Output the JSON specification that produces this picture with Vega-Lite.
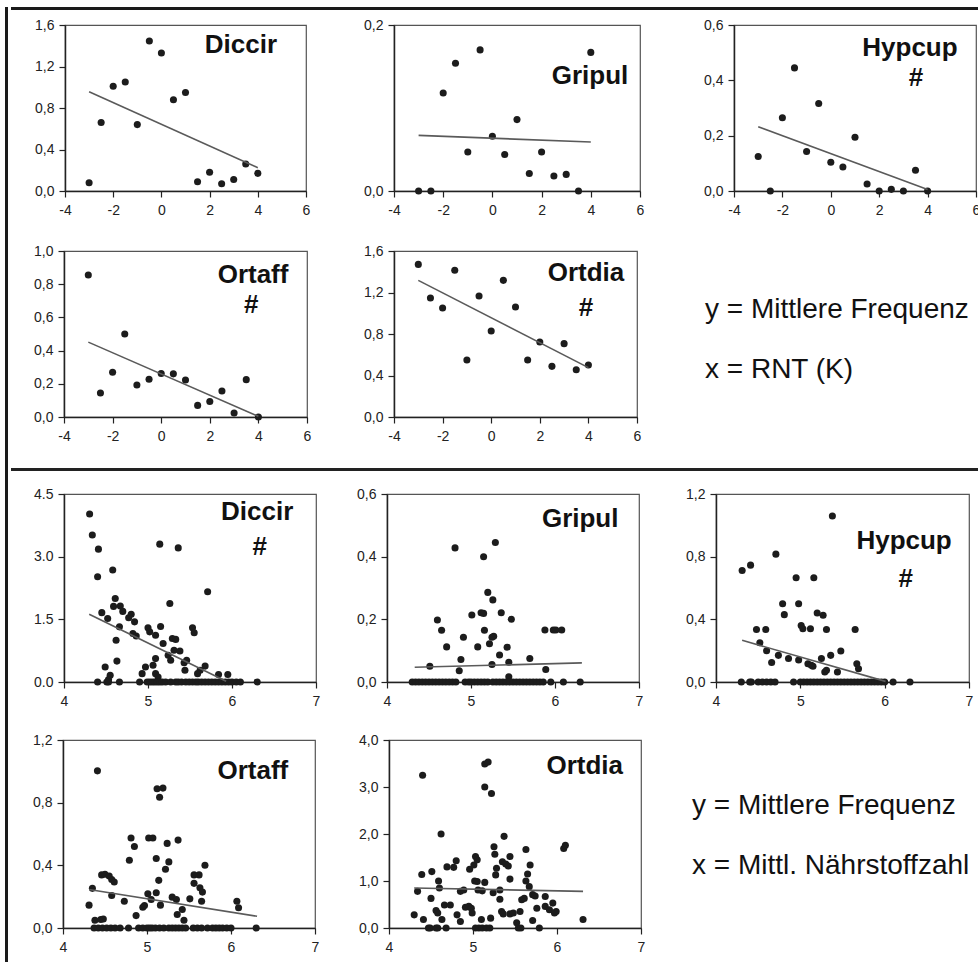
{
"$schema": "https://vega.github.io/schema/vega-lite/v6.json",
"padding": {"left": 5, "top": 5, "right": 0, "bottom": 0},
"background": "white",
"datasets": {
"Diccir_RNT": [{"x":-3,"y":0.08},{"x":-2.5,"y":0.66},{"x":-2,"y":1.01},{"x":-1.5,"y":1.05},{"x":-1,"y":0.64},{"x":-0.5,"y":1.445},{"x":0,"y":1.33},{"x":0.5,"y":0.88},{"x":1,"y":0.95},{"x":1.5,"y":0.09},{"x":2,"y":0.18},{"x":2.5,"y":0.07},{"x":3,"y":0.11},{"x":3.5,"y":0.26},{"x":4,"y":0.17}],
"Gripul_RNT": [{"x":-3,"y":0},{"x":-2.5,"y":0},{"x":-2,"y":0.118},{"x":-1.5,"y":0.154},{"x":-1,"y":0.047},{"x":-0.5,"y":0.17},{"x":0,"y":0.066},{"x":0.5,"y":0.044},{"x":1,"y":0.086},{"x":1.5,"y":0.021},{"x":2,"y":0.047},{"x":2.5,"y":0.018},{"x":3,"y":0.02},{"x":3.5,"y":0},{"x":4,"y":0.167}],
"Hypcup_RNT": [{"x":-3,"y":0.125},{"x":-2.5,"y":0},{"x":-2,"y":0.265},{"x":-1.5,"y":0.445},{"x":-1,"y":0.143},{"x":-0.5,"y":0.316},{"x":0,"y":0.104},{"x":0.5,"y":0.087},{"x":1,"y":0.194},{"x":1.5,"y":0.025},{"x":2,"y":0},{"x":2.5,"y":0.006},{"x":3,"y":0},{"x":3.5,"y":0.075},{"x":4,"y":0}],
"Ortaff_RNT": [{"x":-3,"y":0.855},{"x":-2.5,"y":0.145},{"x":-2,"y":0.27},{"x":-1.5,"y":0.5},{"x":-1,"y":0.193},{"x":-0.5,"y":0.227},{"x":0,"y":0.262},{"x":0.5,"y":0.26},{"x":1,"y":0.223},{"x":1.5,"y":0.07},{"x":2,"y":0.093},{"x":2.5,"y":0.157},{"x":3,"y":0.024},{"x":3.5,"y":0.225},{"x":4,"y":0}],
"Ortdia_RNT": [{"x":-3,"y":1.471},{"x":-2.5,"y":1.147},{"x":-2,"y":1.05},{"x":-1.5,"y":1.414},{"x":-1,"y":0.549},{"x":-0.5,"y":1.166},{"x":0,"y":0.829},{"x":0.5,"y":1.317},{"x":1,"y":1.06},{"x":1.5,"y":0.549},{"x":2,"y":0.723},{"x":2.5,"y":0.488},{"x":3,"y":0.707},{"x":3.5,"y":0.456},{"x":4,"y":0.501}],
"fit_Diccir_RNT": [{"x":-3,"y":0.956},{"x":4,"y":0.225}],
"fit_Gripul_RNT": [{"x":-3,"y":0.067},{"x":4,"y":0.059}],
"fit_Hypcup_RNT": [{"x":-3,"y":0.232},{"x":4,"y":0.005}],
"fit_Ortaff_RNT": [{"x":-3,"y":0.451},{"x":4,"y":0.004}],
"fit_Ortdia_RNT": [{"x":-3,"y":1.317},{"x":4,"y":0.476}],
"Diccir_N": [{"x":4.305,"y":4.02},{"x":4.337,"y":3.52},{"x":4.41,"y":3.18},{"x":4.4,"y":2.52},{"x":4.58,"y":2.68},{"x":4.61,"y":2.0},{"x":4.59,"y":1.81},{"x":4.67,"y":1.82},{"x":4.7,"y":1.69},{"x":4.45,"y":1.66},{"x":4.52,"y":1.52},{"x":4.77,"y":1.54},{"x":4.8,"y":1.62},{"x":4.84,"y":1.44},{"x":4.66,"y":1.32},{"x":4.62,"y":1.0},{"x":4.63,"y":0.5},{"x":4.49,"y":0.36},{"x":4.55,"y":0.16},{"x":4.53,"y":0.06},{"x":4.86,"y":1.1},{"x":4.82,"y":1.16},{"x":5.0,"y":1.3},{"x":5.02,"y":1.2},{"x":5.09,"y":1.12},{"x":5.15,"y":1.33},{"x":5.14,"y":3.3},{"x":5.36,"y":3.21},{"x":5.26,"y":1.88},{"x":5.18,"y":0.92},{"x":5.24,"y":0.64},{"x":5.29,"y":1.04},{"x":5.33,"y":1.02},{"x":5.31,"y":0.76},{"x":5.38,"y":0.74},{"x":5.27,"y":0.52},{"x":5.43,"y":0.46},{"x":5.46,"y":0.52},{"x":5.44,"y":0.28},{"x":5.09,"y":0.56},{"x":5.06,"y":0.4},{"x":4.97,"y":0.36},{"x":4.93,"y":0.2},{"x":5.09,"y":0.2},{"x":5.12,"y":0.12},{"x":5.53,"y":1.3},{"x":5.55,"y":1.18},{"x":5.71,"y":2.16},{"x":5.68,"y":0.38},{"x":5.62,"y":0.28},{"x":5.59,"y":0.2},{"x":5.84,"y":0.18},{"x":5.95,"y":0.18},
{"x":4.4,"y":0},{"x":4.51,"y":0},{"x":4.53,"y":0},{"x":4.66,"y":0},{"x":4.9,"y":0},{"x":4.99,"y":0},{"x":5.02,"y":0},{"x":5.05,"y":0},{"x":5.08,"y":0},{"x":5.11,"y":0},{"x":5.14,"y":0},{"x":5.17,"y":0},{"x":5.21,"y":0},{"x":5.27,"y":0},{"x":5.33,"y":0},{"x":5.36,"y":0},{"x":5.4,"y":0},{"x":5.45,"y":0},{"x":5.49,"y":0},{"x":5.53,"y":0},{"x":5.57,"y":0},{"x":5.6,"y":0},{"x":5.64,"y":0},{"x":5.68,"y":0},{"x":5.72,"y":0},{"x":5.76,"y":0},{"x":5.8,"y":0},{"x":5.84,"y":0},{"x":5.88,"y":0},{"x":5.92,"y":0},{"x":5.96,"y":0},{"x":6.0,"y":0},{"x":6.05,"y":0},{"x":6.1,"y":0},{"x":6.3,"y":0}],
"Gripul_N": [{"x":4.51,"y":0.05},{"x":4.6,"y":0.198},{"x":4.65,"y":0.165},{"x":4.71,"y":0.112},{"x":4.81,"y":0.428},{"x":4.91,"y":0.143},{"x":4.88,"y":0.072},{"x":4.86,"y":0.036},{"x":5.01,"y":0.214},{"x":5.08,"y":0.112},{"x":5.12,"y":0.221},{"x":5.15,"y":0.219},{"x":5.16,"y":0.165},{"x":5.15,"y":0.4},{"x":5.29,"y":0.445},{"x":5.2,"y":0.286},{"x":5.26,"y":0.262},{"x":5.22,"y":0.122},{"x":5.25,"y":0.143},{"x":5.27,"y":0.146},{"x":5.25,"y":0.056},{"x":5.36,"y":0.221},{"x":5.34,"y":0.086},{"x":5.48,"y":0.2},{"x":5.43,"y":0.111},{"x":5.45,"y":0.063},{"x":5.45,"y":0.017},{"x":5.7,"y":0.075},{"x":5.88,"y":0.166},{"x":5.98,"y":0.166},{"x":6.01,"y":0.166},{"x":6.08,"y":0.166},{"x":5.89,"y":0.04},
{"x":4.3,"y":0},{"x":4.34,"y":0},{"x":4.38,"y":0},{"x":4.42,"y":0},{"x":4.46,"y":0},{"x":4.5,"y":0},{"x":4.54,"y":0},{"x":4.58,"y":0},{"x":4.62,"y":0},{"x":4.66,"y":0},{"x":4.7,"y":0},{"x":4.74,"y":0},{"x":4.78,"y":0},{"x":4.82,"y":0},{"x":4.93,"y":0},{"x":4.97,"y":0},{"x":5.0,"y":0},{"x":5.04,"y":0},{"x":5.08,"y":0},{"x":5.12,"y":0},{"x":5.16,"y":0},{"x":5.2,"y":0},{"x":5.26,"y":0},{"x":5.3,"y":0},{"x":5.34,"y":0},{"x":5.38,"y":0},{"x":5.42,"y":0},{"x":5.46,"y":0},{"x":5.5,"y":0},{"x":5.54,"y":0},{"x":5.58,"y":0},{"x":5.62,"y":0},{"x":5.66,"y":0},{"x":5.7,"y":0},{"x":5.74,"y":0},{"x":5.78,"y":0},{"x":5.82,"y":0},{"x":5.86,"y":0},{"x":5.95,"y":0},{"x":6.1,"y":0},{"x":6.3,"y":0}],
"Hypcup_N": [{"x":4.31,"y":0.712},{"x":4.41,"y":0.746},{"x":4.71,"y":0.816},{"x":4.48,"y":0.335},{"x":4.59,"y":0.335},{"x":4.52,"y":0.25},{"x":4.6,"y":0.2},{"x":4.66,"y":0.124},{"x":4.74,"y":0.17},{"x":4.79,"y":0.5},{"x":4.81,"y":0.43},{"x":4.86,"y":0.15},{"x":4.95,"y":0.665},{"x":4.98,"y":0.5},{"x":5.01,"y":0.36},{"x":5.03,"y":0.34},{"x":5.12,"y":0.34},{"x":4.98,"y":0.14},{"x":5.09,"y":0.117},{"x":5.13,"y":0.107},{"x":5.15,"y":0.1},{"x":5.16,"y":0.665},{"x":5.2,"y":0.44},{"x":5.27,"y":0.426},{"x":5.31,"y":0.335},{"x":5.25,"y":0.15},{"x":5.29,"y":0.064},{"x":5.31,"y":0.075},{"x":5.38,"y":1.06},{"x":5.36,"y":0.17},{"x":5.48,"y":0.198},{"x":5.44,"y":0.064},{"x":5.65,"y":0.335},{"x":5.67,"y":0.117},{"x":5.69,"y":0.085},
{"x":4.3,"y":0},{"x":4.4,"y":0},{"x":4.42,"y":0},{"x":4.5,"y":0},{"x":4.55,"y":0},{"x":4.6,"y":0},{"x":4.65,"y":0},{"x":4.7,"y":0},{"x":4.92,"y":0},{"x":5.0,"y":0},{"x":5.04,"y":0},{"x":5.08,"y":0},{"x":5.12,"y":0},{"x":5.16,"y":0},{"x":5.2,"y":0},{"x":5.24,"y":0},{"x":5.28,"y":0},{"x":5.32,"y":0},{"x":5.36,"y":0},{"x":5.4,"y":0},{"x":5.44,"y":0},{"x":5.48,"y":0},{"x":5.52,"y":0},{"x":5.56,"y":0},{"x":5.6,"y":0},{"x":5.64,"y":0},{"x":5.68,"y":0},{"x":5.72,"y":0},{"x":5.76,"y":0},{"x":5.8,"y":0},{"x":5.84,"y":0},{"x":5.88,"y":0},{"x":5.92,"y":0},{"x":5.96,"y":0},{"x":6.0,"y":0},{"x":6.1,"y":0},{"x":6.3,"y":0}],
"Ortaff_N": [{"x":4.31,"y":0.146},{"x":4.35,"y":0.253},{"x":4.41,"y":1.003},{"x":4.38,"y":0.05},{"x":4.45,"y":0.054},{"x":4.48,"y":0.058},{"x":4.46,"y":0.339},{"x":4.5,"y":0.343},{"x":4.55,"y":0.332},{"x":4.58,"y":0.31},{"x":4.61,"y":0.294},{"x":4.58,"y":0.208},{"x":4.73,"y":0.171},{"x":4.81,"y":0.574},{"x":4.85,"y":0.52},{"x":4.79,"y":0.433},{"x":4.87,"y":0.079},{"x":4.95,"y":0.133},{"x":4.97,"y":0.143},{"x":5.01,"y":0.218},{"x":5.02,"y":0.574},{"x":5.07,"y":0.574},{"x":5.11,"y":0.444},{"x":5.11,"y":0.225},{"x":5.14,"y":0.304},{"x":5.12,"y":0.889},{"x":5.15,"y":0.835},{"x":5.19,"y":0.893},{"x":5.16,"y":0.146},{"x":5.05,"y":0.182},{"x":5.24,"y":0.54},{"x":5.22,"y":0.375},{"x":5.26,"y":0.422},{"x":5.3,"y":0.197},{"x":5.35,"y":0.182},{"x":5.37,"y":0.561},{"x":5.36,"y":0.086},{"x":5.42,"y":0.118},{"x":5.44,"y":0.049},{"x":5.51,"y":0.186},{"x":5.56,"y":0.339},{"x":5.62,"y":0.339},{"x":5.56,"y":0.285},{"x":5.63,"y":0.257},{"x":5.66,"y":0.229},{"x":5.65,"y":0.171},{"x":5.69,"y":0.4},{"x":6.07,"y":0.171},{"x":6.09,"y":0.129},
{"x":4.37,"y":0},{"x":4.42,"y":0},{"x":4.47,"y":0},{"x":4.52,"y":0},{"x":4.57,"y":0},{"x":4.62,"y":0},{"x":4.68,"y":0},{"x":4.78,"y":0},{"x":4.9,"y":0},{"x":4.95,"y":0},{"x":5.0,"y":0},{"x":5.03,"y":0},{"x":5.06,"y":0},{"x":5.1,"y":0},{"x":5.15,"y":0},{"x":5.2,"y":0},{"x":5.26,"y":0},{"x":5.3,"y":0},{"x":5.34,"y":0},{"x":5.38,"y":0},{"x":5.42,"y":0},{"x":5.46,"y":0},{"x":5.55,"y":0},{"x":5.6,"y":0},{"x":5.65,"y":0},{"x":5.72,"y":0},{"x":5.78,"y":0},{"x":5.82,"y":0},{"x":5.86,"y":0},{"x":5.9,"y":0},{"x":5.95,"y":0},{"x":6.0,"y":0},{"x":6.3,"y":0}],
"Ortdia_N": [{"x":4.3,"y":0.28},{"x":4.34,"y":0.78},{"x":4.39,"y":1.14},{"x":4.4,"y":3.25},{"x":4.41,"y":0.18},{"x":4.47,"y":0},{"x":4.51,"y":1.2},{"x":4.5,"y":0.63},{"x":4.49,"y":0},{"x":4.56,"y":0.37},{"x":4.58,"y":0.32},{"x":4.59,"y":1.0},{"x":4.6,"y":0.85},{"x":4.62,"y":2.0},{"x":4.63,"y":0.18},{"x":4.56,"y":0},{"x":4.58,"y":0},{"x":4.66,"y":0.49},{"x":4.73,"y":0.49},{"x":4.68,"y":0},{"x":4.69,"y":1.3},{"x":4.77,"y":1.29},{"x":4.8,"y":1.43},{"x":4.81,"y":0.28},{"x":4.85,"y":0.14},{"x":4.85,"y":0.78},{"x":4.89,"y":0.81},{"x":4.91,"y":0.44},{"x":4.95,"y":0.46},{"x":4.98,"y":0.42},{"x":4.99,"y":0.32},{"x":4.96,"y":1.25},{"x":5.01,"y":1.34},{"x":5.03,"y":1.52},{"x":5.05,"y":1.45},{"x":5.02,"y":1.0},{"x":5.05,"y":0.99},{"x":5.06,"y":0.81},{"x":5.1,"y":0.18},{"x":5.03,"y":0},{"x":5.07,"y":0},{"x":5.11,"y":0},{"x":5.16,"y":0},{"x":5.2,"y":0},{"x":5.14,"y":3.0},{"x":5.14,"y":3.49},{"x":5.18,"y":3.53},{"x":5.22,"y":2.86},{"x":5.14,"y":0.97},{"x":5.11,"y":0.79},{"x":5.21,"y":0.21},{"x":5.25,"y":1.73},{"x":5.26,"y":1.57},{"x":5.27,"y":1.13},{"x":5.28,"y":1.27},{"x":5.24,"y":0.75},{"x":5.32,"y":0.81},{"x":5.32,"y":0.61},{"x":5.34,"y":0.35},{"x":5.36,"y":0.3},{"x":5.37,"y":1.95},{"x":5.35,"y":1.41},{"x":5.39,"y":1.36},{"x":5.42,"y":1.32},{"x":5.44,"y":1.52},{"x":5.44,"y":1.04},{"x":5.44,"y":0.3},{"x":5.48,"y":0.32},{"x":5.52,"y":0.11},{"x":5.54,"y":0},{"x":5.57,"y":0},{"x":5.56,"y":0.35},{"x":5.58,"y":0.6},{"x":5.61,"y":0.63},{"x":5.63,"y":1.67},{"x":5.65,"y":1.15},{"x":5.63,"y":1.0},{"x":5.67,"y":0.88},{"x":5.68,"y":1.34},{"x":5.71,"y":0.71},{"x":5.74,"y":0.68},{"x":5.71,"y":0.16},{"x":5.76,"y":0.42},{"x":5.79,"y":0},{"x":5.86,"y":0.67},{"x":5.86,"y":0.46},{"x":5.91,"y":0.39},{"x":5.95,"y":0.53},{"x":5.97,"y":0.32},{"x":5.99,"y":0.35},{"x":6.08,"y":1.69},{"x":6.1,"y":1.76},{"x":6.31,"y":0.18}],
"fit_Diccir_N": [{"x":4.3,"y":1.62},{"x":5.93,"y":0.02}],
"fit_Gripul_N": [{"x":4.33,"y":0.047},{"x":6.32,"y":0.061}],
"fit_Hypcup_N": [{"x":4.31,"y":0.266},{"x":6.01,"y":0.004}],
"fit_Ortaff_N": [{"x":4.31,"y":0.246},{"x":6.31,"y":0.075}],
"fit_Ortdia_N": [{"x":4.3,"y":0.85},{"x":6.31,"y":0.78}]
},
"spacing": 0,
"hconcat": [
{"width": 3, "height": 957, "view": {"stroke": null}, "data": {"values": [{}]}, "mark": {"type": "rule", "color": "#1a1a1a", "strokeWidth": 3}, "encoding": {"x": {"datum": 0.5, "type": "quantitative", "scale": {"domain": [0, 1]}, "axis": null}}},
{"spacing": 0, "vconcat": [
{"width": 970, "height": 3, "view": {"stroke": null}, "data": {"values": [{}]}, "mark": {"type": "rule", "color": "#1a1a1a", "strokeWidth": 3}, "encoding": {"y": {"datum": 0.5, "type": "quantitative", "scale": {"domain": [0, 1]}, "axis": null}}},
{"width": 1, "height": 5, "view": {"stroke": null}, "data": {"values": [{}]}, "mark": {"type": "point", "opacity": 0}, "encoding": {}},
{"spacing": 0, "bounds": "flush", "hconcat": [
{"width": 54, "height": 1, "view": {"stroke": null}, "data": {"values": [{}]}, "mark": {"type": "point", "opacity": 0}, "encoding": {}},
{"width": 241, "height": 166, "layer": [
{"data": {"name": "Diccir_RNT"}, "mark": {"type": "circle", "size": 50, "color": "#1c1c1c", "opacity": 1}, "encoding": {"x": {"field": "x", "type": "quantitative", "scale": {"domain": [-4, 6], "nice": false, "zero": false}, "axis": {"values": [-4, -2, 0, 2, 4, 6], "tickCount": 12, "labelExpr": "datum.value + ''", "title": null, "labelOverlap": false}}, "y": {"field": "y", "type": "quantitative", "scale": {"domain": [0, 1.6], "nice": false}, "axis": {"values": [0, 0.4, 0.8, 1.2, 1.6], "tickCount": 12, "format": ".1f", "labelExpr": "replace(datum.label, '.', ',')", "title": null, "labelOverlap": false}}}},
{"data": {"name": "fit_Diccir_RNT"}, "mark": {"type": "line", "color": "#5a5a5a", "strokeWidth": 1.6}, "encoding": {"x": {"field": "x", "type": "quantitative"}, "y": {"field": "y", "type": "quantitative"}}},
{"data": {"values": [{"t": "Diccir"}]}, "mark": {"type": "text", "fontSize": 26, "fontWeight": "bold", "font": "Liberation Sans", "color": "#111"}, "encoding": {"text": {"field": "t"}, "x": {"datum": 3.3, "type": "quantitative"}, "y": {"datum": 1.41, "type": "quantitative"}}}
]},
{"width": 88, "height": 1, "view": {"stroke": null}, "data": {"values": [{}]}, "mark": {"type": "point", "opacity": 0}, "encoding": {}},
{"width": 246, "height": 166, "layer": [
{"data": {"name": "Gripul_RNT"}, "mark": {"type": "circle", "size": 50, "color": "#1c1c1c", "opacity": 1}, "encoding": {"x": {"field": "x", "type": "quantitative", "scale": {"domain": [-4, 6], "nice": false, "zero": false}, "axis": {"values": [-4, -2, 0, 2, 4, 6], "tickCount": 12, "labelExpr": "datum.value + ''", "title": null, "labelOverlap": false}}, "y": {"field": "y", "type": "quantitative", "scale": {"domain": [0, 0.2], "nice": false}, "axis": {"values": [0, 0.2], "tickCount": 12, "format": ".1f", "labelExpr": "replace(datum.label, '.', ',')", "title": null, "labelOverlap": false}}}},
{"data": {"name": "fit_Gripul_RNT"}, "mark": {"type": "line", "color": "#5a5a5a", "strokeWidth": 1.6}, "encoding": {"x": {"field": "x", "type": "quantitative"}, "y": {"field": "y", "type": "quantitative"}}},
{"data": {"values": [{"t": "Gripul"}]}, "mark": {"type": "text", "fontSize": 26, "fontWeight": "bold", "font": "Liberation Sans", "color": "#111"}, "encoding": {"text": {"field": "t"}, "x": {"datum": 3.97, "type": "quantitative"}, "y": {"datum": 0.138, "type": "quantitative"}}}
]},
{"width": 94, "height": 1, "view": {"stroke": null}, "data": {"values": [{}]}, "mark": {"type": "point", "opacity": 0}, "encoding": {}},
{"width": 242, "height": 166, "layer": [
{"data": {"name": "Hypcup_RNT"}, "mark": {"type": "circle", "size": 50, "color": "#1c1c1c", "opacity": 1}, "encoding": {"x": {"field": "x", "type": "quantitative", "scale": {"domain": [-4, 6], "nice": false, "zero": false}, "axis": {"values": [-4, -2, 0, 2, 4, 6], "tickCount": 12, "labelExpr": "datum.value + ''", "title": null, "labelOverlap": false}}, "y": {"field": "y", "type": "quantitative", "scale": {"domain": [0, 0.6], "nice": false}, "axis": {"values": [0, 0.2, 0.4, 0.6], "tickCount": 12, "format": ".1f", "labelExpr": "replace(datum.label, '.', ',')", "title": null, "labelOverlap": false}}}},
{"data": {"name": "fit_Hypcup_RNT"}, "mark": {"type": "line", "color": "#5a5a5a", "strokeWidth": 1.6}, "encoding": {"x": {"field": "x", "type": "quantitative"}, "y": {"field": "y", "type": "quantitative"}}},
{"data": {"values": [{"t": "Hypcup"}]}, "mark": {"type": "text", "fontSize": 26, "fontWeight": "bold", "font": "Liberation Sans", "color": "#111"}, "encoding": {"text": {"field": "t"}, "x": {"datum": 3.27, "type": "quantitative"}, "y": {"datum": 0.517, "type": "quantitative"}}},
{"data": {"values": [{"t": "#"}]}, "mark": {"type": "text", "fontSize": 26, "fontWeight": "bold", "font": "Liberation Sans", "color": "#111"}, "encoding": {"text": {"field": "t"}, "x": {"datum": 3.52, "type": "quantitative"}, "y": {"datum": 0.41, "type": "quantitative"}}}
]}
]},
{"width": 1, "height": 25, "view": {"stroke": null}, "data": {"values": [{}]}, "mark": {"type": "point", "opacity": 0}, "encoding": {}},
{"spacing": 0, "bounds": "flush", "hconcat": [
{"width": 53, "height": 1, "view": {"stroke": null}, "data": {"values": [{}]}, "mark": {"type": "point", "opacity": 0}, "encoding": {}},
{"width": 243, "height": 166, "layer": [
{"data": {"name": "Ortaff_RNT"}, "mark": {"type": "circle", "size": 50, "color": "#1c1c1c", "opacity": 1}, "encoding": {"x": {"field": "x", "type": "quantitative", "scale": {"domain": [-4, 6], "nice": false, "zero": false}, "axis": {"values": [-4, -2, 0, 2, 4, 6], "tickCount": 12, "labelExpr": "datum.value + ''", "title": null, "labelOverlap": false}}, "y": {"field": "y", "type": "quantitative", "scale": {"domain": [0, 1.0], "nice": false}, "axis": {"values": [0, 0.2, 0.4, 0.6, 0.8, 1.0], "tickCount": 12, "format": ".1f", "labelExpr": "replace(datum.label, '.', ',')", "title": null, "labelOverlap": false}}}},
{"data": {"name": "fit_Ortaff_RNT"}, "mark": {"type": "line", "color": "#5a5a5a", "strokeWidth": 1.6}, "encoding": {"x": {"field": "x", "type": "quantitative"}, "y": {"field": "y", "type": "quantitative"}}},
{"data": {"values": [{"t": "Ortaff"}]}, "mark": {"type": "text", "fontSize": 26, "fontWeight": "bold", "font": "Liberation Sans", "color": "#111"}, "encoding": {"text": {"field": "t"}, "x": {"datum": 3.78, "type": "quantitative"}, "y": {"datum": 0.855, "type": "quantitative"}}},
{"data": {"values": [{"t": "#"}]}, "mark": {"type": "text", "fontSize": 26, "fontWeight": "bold", "font": "Liberation Sans", "color": "#111"}, "encoding": {"text": {"field": "t"}, "x": {"datum": 3.7, "type": "quantitative"}, "y": {"datum": 0.675, "type": "quantitative"}}}
]},
{"width": 87, "height": 1, "view": {"stroke": null}, "data": {"values": [{}]}, "mark": {"type": "point", "opacity": 0}, "encoding": {}},
{"width": 243, "height": 166, "layer": [
{"data": {"name": "Ortdia_RNT"}, "mark": {"type": "circle", "size": 50, "color": "#1c1c1c", "opacity": 1}, "encoding": {"x": {"field": "x", "type": "quantitative", "scale": {"domain": [-4, 6], "nice": false, "zero": false}, "axis": {"values": [-4, -2, 0, 2, 4, 6], "tickCount": 12, "labelExpr": "datum.value + ''", "title": null, "labelOverlap": false}}, "y": {"field": "y", "type": "quantitative", "scale": {"domain": [0, 1.6], "nice": false}, "axis": {"values": [0, 0.4, 0.8, 1.2, 1.6], "tickCount": 12, "format": ".1f", "labelExpr": "replace(datum.label, '.', ',')", "title": null, "labelOverlap": false}}}},
{"data": {"name": "fit_Ortdia_RNT"}, "mark": {"type": "line", "color": "#5a5a5a", "strokeWidth": 1.6}, "encoding": {"x": {"field": "x", "type": "quantitative"}, "y": {"field": "y", "type": "quantitative"}}},
{"data": {"values": [{"t": "Ortdia"}]}, "mark": {"type": "text", "fontSize": 26, "fontWeight": "bold", "font": "Liberation Sans", "color": "#111"}, "encoding": {"text": {"field": "t"}, "x": {"datum": 3.9, "type": "quantitative"}, "y": {"datum": 1.39, "type": "quantitative"}}},
{"data": {"values": [{"t": "#"}]}, "mark": {"type": "text", "fontSize": 26, "fontWeight": "bold", "font": "Liberation Sans", "color": "#111"}, "encoding": {"text": {"field": "t"}, "x": {"datum": 3.9, "type": "quantitative"}, "y": {"datum": 1.05, "type": "quantitative"}}}
]},
{"width": 68, "height": 1, "view": {"stroke": null}, "data": {"values": [{}]}, "mark": {"type": "point", "opacity": 0}, "encoding": {}},
{"width": 270, "height": 166, "view": {"stroke": null}, "data": {"values": [{"t": "y = Mittlere Frequenz", "line": 1}, {"t": "x = RNT (K)", "line": 2}]}, "mark": {"type": "text", "fontSize": 28, "font": "Liberation Sans", "align": "left", "baseline": "alphabetic", "color": "#111"}, "encoding": {"text": {"field": "t"}, "x": {"datum": 0, "type": "quantitative", "scale": {"domain": [0, 1]}, "axis": null}, "y": {"field": "line", "type": "quantitative", "scale": {"domain": [-0.117, 2.65], "reverse": true, "nice": false, "zero": false}, "axis": null}}}
]},
{"width": 1, "height": 24, "view": {"stroke": null}, "data": {"values": [{}]}, "mark": {"type": "point", "opacity": 0}, "encoding": {}},
{"width": 970, "height": 3, "view": {"stroke": null}, "data": {"values": [{}]}, "mark": {"type": "rule", "color": "#222", "strokeWidth": 3}, "encoding": {"y": {"datum": 0.5, "type": "quantitative", "scale": {"domain": [0, 1]}, "axis": null}}},
{"width": 1, "height": 15, "view": {"stroke": null}, "data": {"values": [{}]}, "mark": {"type": "point", "opacity": 0}, "encoding": {}},
{"spacing": 0, "bounds": "flush", "hconcat": [
{"width": 53, "height": 1, "view": {"stroke": null}, "data": {"values": [{}]}, "mark": {"type": "point", "opacity": 0}, "encoding": {}},
{"width": 252, "height": 188, "layer": [
{"data": {"name": "Diccir_N"}, "mark": {"type": "circle", "size": 50, "color": "#1c1c1c", "opacity": 1}, "encoding": {"x": {"field": "x", "type": "quantitative", "scale": {"domain": [4, 7], "nice": false, "zero": false}, "axis": {"values": [4, 5, 6, 7], "tickCount": 12, "labelExpr": "datum.value + ''", "title": null, "labelOverlap": false}}, "y": {"field": "y", "type": "quantitative", "scale": {"domain": [0, 4.5], "nice": false}, "axis": {"values": [0, 1.5, 3.0, 4.5], "tickCount": 12, "format": ".1f", "title": null, "labelOverlap": false}}}},
{"data": {"name": "fit_Diccir_N"}, "mark": {"type": "line", "color": "#5a5a5a", "strokeWidth": 1.6}, "encoding": {"x": {"field": "x", "type": "quantitative"}, "y": {"field": "y", "type": "quantitative"}}},
{"data": {"values": [{"t": "Diccir"}]}, "mark": {"type": "text", "fontSize": 26, "fontWeight": "bold", "font": "Liberation Sans", "color": "#111"}, "encoding": {"text": {"field": "t"}, "x": {"datum": 6.3, "type": "quantitative"}, "y": {"datum": 4.08, "type": "quantitative"}}},
{"data": {"values": [{"t": "#"}]}, "mark": {"type": "text", "fontSize": 26, "fontWeight": "bold", "font": "Liberation Sans", "color": "#111"}, "encoding": {"text": {"field": "t"}, "x": {"datum": 6.33, "type": "quantitative"}, "y": {"datum": 3.22, "type": "quantitative"}}}
]},
{"width": 71, "height": 1, "view": {"stroke": null}, "data": {"values": [{}]}, "mark": {"type": "point", "opacity": 0}, "encoding": {}},
{"width": 252, "height": 188, "layer": [
{"data": {"name": "Gripul_N"}, "mark": {"type": "circle", "size": 50, "color": "#1c1c1c", "opacity": 1}, "encoding": {"x": {"field": "x", "type": "quantitative", "scale": {"domain": [4, 7], "nice": false, "zero": false}, "axis": {"values": [4, 5, 6, 7], "tickCount": 12, "labelExpr": "datum.value + ''", "title": null, "labelOverlap": false}}, "y": {"field": "y", "type": "quantitative", "scale": {"domain": [0, 0.6], "nice": false}, "axis": {"values": [0, 0.2, 0.4, 0.6], "tickCount": 12, "format": ".1f", "labelExpr": "replace(datum.label, '.', ',')", "title": null, "labelOverlap": false}}}},
{"data": {"name": "fit_Gripul_N"}, "mark": {"type": "line", "color": "#5a5a5a", "strokeWidth": 1.6}, "encoding": {"x": {"field": "x", "type": "quantitative"}, "y": {"field": "y", "type": "quantitative"}}},
{"data": {"values": [{"t": "Gripul"}]}, "mark": {"type": "text", "fontSize": 26, "fontWeight": "bold", "font": "Liberation Sans", "color": "#111"}, "encoding": {"text": {"field": "t"}, "x": {"datum": 6.3, "type": "quantitative"}, "y": {"datum": 0.52, "type": "quantitative"}}}
]},
{"width": 77, "height": 1, "view": {"stroke": null}, "data": {"values": [{}]}, "mark": {"type": "point", "opacity": 0}, "encoding": {}},
{"width": 253, "height": 188, "layer": [
{"data": {"name": "Hypcup_N"}, "mark": {"type": "circle", "size": 50, "color": "#1c1c1c", "opacity": 1}, "encoding": {"x": {"field": "x", "type": "quantitative", "scale": {"domain": [4, 7], "nice": false, "zero": false}, "axis": {"values": [4, 5, 6, 7], "tickCount": 12, "labelExpr": "datum.value + ''", "title": null, "labelOverlap": false}}, "y": {"field": "y", "type": "quantitative", "scale": {"domain": [0, 1.2], "nice": false}, "axis": {"values": [0, 0.4, 0.8, 1.2], "tickCount": 12, "format": ".1f", "labelExpr": "replace(datum.label, '.', ',')", "title": null, "labelOverlap": false}}}},
{"data": {"name": "fit_Hypcup_N"}, "mark": {"type": "line", "color": "#5a5a5a", "strokeWidth": 1.6}, "encoding": {"x": {"field": "x", "type": "quantitative"}, "y": {"field": "y", "type": "quantitative"}}},
{"data": {"values": [{"t": "Hypcup"}]}, "mark": {"type": "text", "fontSize": 26, "fontWeight": "bold", "font": "Liberation Sans", "color": "#111"}, "encoding": {"text": {"field": "t"}, "x": {"datum": 6.23, "type": "quantitative"}, "y": {"datum": 0.9, "type": "quantitative"}}},
{"data": {"values": [{"t": "#"}]}, "mark": {"type": "text", "fontSize": 26, "fontWeight": "bold", "font": "Liberation Sans", "color": "#111"}, "encoding": {"text": {"field": "t"}, "x": {"datum": 6.25, "type": "quantitative"}, "y": {"datum": 0.66, "type": "quantitative"}}}
]}
]},
{"width": 1, "height": 23, "view": {"stroke": null}, "data": {"values": [{}]}, "mark": {"type": "point", "opacity": 0}, "encoding": {}},
{"spacing": 0, "bounds": "flush", "hconcat": [
{"width": 52, "height": 1, "view": {"stroke": null}, "data": {"values": [{}]}, "mark": {"type": "point", "opacity": 0}, "encoding": {}},
{"width": 252, "height": 188, "layer": [
{"data": {"name": "Ortaff_N"}, "mark": {"type": "circle", "size": 50, "color": "#1c1c1c", "opacity": 1}, "encoding": {"x": {"field": "x", "type": "quantitative", "scale": {"domain": [4, 7], "nice": false, "zero": false}, "axis": {"values": [4, 5, 6, 7], "tickCount": 12, "labelExpr": "datum.value + ''", "title": null, "labelOverlap": false}}, "y": {"field": "y", "type": "quantitative", "scale": {"domain": [0, 1.2], "nice": false}, "axis": {"values": [0, 0.4, 0.8, 1.2], "tickCount": 12, "format": ".1f", "labelExpr": "replace(datum.label, '.', ',')", "title": null, "labelOverlap": false}}}},
{"data": {"name": "fit_Ortaff_N"}, "mark": {"type": "line", "color": "#5a5a5a", "strokeWidth": 1.6}, "encoding": {"x": {"field": "x", "type": "quantitative"}, "y": {"field": "y", "type": "quantitative"}}},
{"data": {"values": [{"t": "Ortaff"}]}, "mark": {"type": "text", "fontSize": 26, "fontWeight": "bold", "font": "Liberation Sans", "color": "#111"}, "encoding": {"text": {"field": "t"}, "x": {"datum": 6.26, "type": "quantitative"}, "y": {"datum": 1.0, "type": "quantitative"}}}
]},
{"width": 74, "height": 1, "view": {"stroke": null}, "data": {"values": [{}]}, "mark": {"type": "point", "opacity": 0}, "encoding": {}},
{"width": 252, "height": 188, "layer": [
{"data": {"name": "Ortdia_N"}, "mark": {"type": "circle", "size": 50, "color": "#1c1c1c", "opacity": 1}, "encoding": {"x": {"field": "x", "type": "quantitative", "scale": {"domain": [4, 7], "nice": false, "zero": false}, "axis": {"values": [4, 5, 6, 7], "tickCount": 12, "labelExpr": "datum.value + ''", "title": null, "labelOverlap": false}}, "y": {"field": "y", "type": "quantitative", "scale": {"domain": [0, 4.0], "nice": false}, "axis": {"values": [0, 1, 2, 3, 4], "tickCount": 12, "format": ".1f", "labelExpr": "replace(datum.label, '.', ',')", "title": null, "labelOverlap": false}}}},
{"data": {"name": "fit_Ortdia_N"}, "mark": {"type": "line", "color": "#5a5a5a", "strokeWidth": 1.6}, "encoding": {"x": {"field": "x", "type": "quantitative"}, "y": {"field": "y", "type": "quantitative"}}},
{"data": {"values": [{"t": "Ortdia"}]}, "mark": {"type": "text", "fontSize": 26, "fontWeight": "bold", "font": "Liberation Sans", "color": "#111"}, "encoding": {"text": {"field": "t"}, "x": {"datum": 6.33, "type": "quantitative"}, "y": {"datum": 3.45, "type": "quantitative"}}}
]},
{"width": 51, "height": 1, "view": {"stroke": null}, "data": {"values": [{}]}, "mark": {"type": "point", "opacity": 0}, "encoding": {}},
{"width": 280, "height": 188, "view": {"stroke": null}, "data": {"values": [{"t": "y = Mittlere Frequenz", "line": 1}, {"t": "x = Mittl. Nährstoffzahl", "line": 2}]}, "mark": {"type": "text", "fontSize": 28, "font": "Liberation Sans", "align": "left", "baseline": "alphabetic", "color": "#111"}, "encoding": {"text": {"field": "t"}, "x": {"datum": 0, "type": "quantitative", "scale": {"domain": [0, 1]}, "axis": null}, "y": {"field": "line", "type": "quantitative", "scale": {"domain": [-0.233, 2.9], "reverse": true, "nice": false, "zero": false}, "axis": null}}}
]}
]}
],
"config": {
"font": "Liberation Sans",
"view": {"stroke": "#555", "strokeWidth": 1.2},
"axis": {"labelFont": "Liberation Sans", "labelFontSize": 14, "labelColor": "#222", "tickColor": "#222", "tickSize": 6, "tickWidth": 1.2, "domainColor": "#222", "domainWidth": 1.5, "grid": false, "labelFlush": false, "labelOverlap": false},
"axisX": {"labelPadding": 6},
"axisY": {"labelPadding": 5}
}
}
